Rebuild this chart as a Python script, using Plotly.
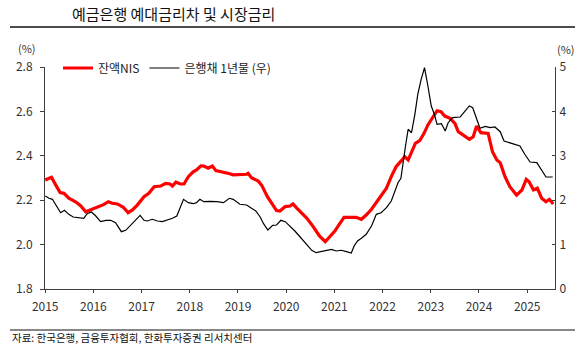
import plotly.graph_objects as go

# ---- data (decimal year, value) ----
nis_t = [2015.00, 2015.13, 2015.22, 2015.31, 2015.39, 2015.49, 2015.63, 2015.74, 2015.84, 2015.94,
         2016.08, 2016.21, 2016.31, 2016.39, 2016.50, 2016.62, 2016.72, 2016.81, 2016.91,
         2017.05, 2017.15, 2017.26, 2017.40, 2017.50, 2017.59, 2017.64, 2017.71, 2017.81, 2017.88, 2017.97,
         2018.07, 2018.14, 2018.23, 2018.29, 2018.38, 2018.47, 2018.54, 2018.66, 2018.75, 2018.83, 2018.90,
         2019.04, 2019.18, 2019.21, 2019.28, 2019.42, 2019.49, 2019.61, 2019.72, 2019.80, 2019.87, 2019.98,
         2020.08, 2020.14, 2020.22, 2020.32, 2020.43, 2020.56, 2020.69, 2020.81, 2020.90,
         2021.01, 2021.09, 2021.20, 2021.35, 2021.45, 2021.56, 2021.66, 2021.77, 2021.87, 2021.97,
         2022.08, 2022.18, 2022.28, 2022.39, 2022.46, 2022.53, 2022.60, 2022.68, 2022.77, 2022.86, 2022.94,
         2023.05, 2023.13, 2023.21, 2023.29, 2023.40, 2023.50, 2023.57, 2023.67, 2023.80, 2023.88, 2023.95,
         2024.04, 2024.19, 2024.28, 2024.37, 2024.44, 2024.54, 2024.64, 2024.78, 2024.89, 2024.98,
         2025.04, 2025.13, 2025.21, 2025.30, 2025.39, 2025.46, 2025.54]
nis_v = [2.291, 2.303, 2.268, 2.234, 2.231, 2.209, 2.193, 2.174, 2.148, 2.156,
         2.168, 2.180, 2.193, 2.186, 2.183, 2.168, 2.144, 2.156, 2.178,
         2.216, 2.231, 2.261, 2.264, 2.276, 2.273, 2.264, 2.281, 2.273, 2.273, 2.306,
         2.328, 2.336, 2.355, 2.354, 2.344, 2.354, 2.333, 2.328, 2.321, 2.319, 2.314,
         2.314, 2.317, 2.321, 2.301, 2.286, 2.268, 2.216, 2.178, 2.153, 2.151, 2.171,
         2.174, 2.183, 2.164, 2.141, 2.118, 2.081, 2.039, 2.013, 2.036,
         2.061, 2.088, 2.123, 2.123, 2.123, 2.114, 2.133, 2.159, 2.189, 2.216,
         2.254, 2.306, 2.351, 2.378, 2.396, 2.381, 2.418, 2.456, 2.468, 2.501, 2.539,
         2.579, 2.603, 2.599, 2.579, 2.569, 2.546, 2.509, 2.494, 2.474, 2.486, 2.534,
         2.504, 2.501, 2.418, 2.381, 2.369, 2.306, 2.261, 2.223, 2.246, 2.294,
         2.283, 2.246, 2.254, 2.209, 2.193, 2.204, 2.183]

bond_t = [2015.00, 2015.08, 2015.15, 2015.24, 2015.32, 2015.40, 2015.49, 2015.58, 2015.70, 2015.80, 2015.87, 2015.96,
          2016.05, 2016.15, 2016.26, 2016.36, 2016.46, 2016.58, 2016.67, 2016.77, 2016.88, 2016.97,
          2017.05, 2017.12, 2017.22, 2017.33, 2017.43, 2017.53, 2017.64, 2017.73, 2017.78, 2017.87, 2017.97,
          2018.07, 2018.14, 2018.21, 2018.29, 2018.42, 2018.56, 2018.70, 2018.82, 2018.90,
          2019.04, 2019.18, 2019.28, 2019.37, 2019.46, 2019.53, 2019.62, 2019.72, 2019.80, 2019.89, 2019.98,
          2020.08, 2020.18, 2020.29, 2020.43, 2020.53, 2020.62, 2020.70, 2020.83, 2020.94,
          2021.04, 2021.14, 2021.25, 2021.35, 2021.41, 2021.48, 2021.56, 2021.66, 2021.77, 2021.87, 2021.97,
          2022.08, 2022.18, 2022.26, 2022.32, 2022.38, 2022.42, 2022.47, 2022.53, 2022.60, 2022.67, 2022.73,
          2022.80, 2022.87, 2022.94,
          2023.01, 2023.07, 2023.13, 2023.22, 2023.30, 2023.36, 2023.45, 2023.61, 2023.71, 2023.80, 2023.87, 2023.95,
          2024.02, 2024.13, 2024.23, 2024.33, 2024.44, 2024.52, 2024.64, 2024.75, 2024.85, 2024.95,
          2025.06, 2025.20, 2025.30, 2025.39, 2025.53]
bond_v = [2.095, 2.043, 2.020, 1.847, 1.718, 1.773, 1.682, 1.622, 1.606, 1.592, 1.696, 1.734,
          1.644, 1.516, 1.547, 1.547, 1.493, 1.291, 1.322, 1.435, 1.570, 1.660,
          1.547, 1.532, 1.570, 1.532, 1.516, 1.547, 1.592, 1.644, 1.795, 2.020, 1.944,
          1.921, 1.944, 2.020, 1.966, 1.975, 1.966, 1.944, 2.043, 2.020,
          1.908, 1.892, 1.818, 1.757, 1.622, 1.471, 1.329, 1.435, 1.441, 1.547, 1.516,
          1.419, 1.306, 1.171, 1.007, 0.872, 0.818, 0.840, 0.878, 0.894,
          0.856, 0.872, 0.840, 0.811, 0.968, 1.081, 1.142, 1.232, 1.419, 1.682, 1.718,
          1.831, 1.982, 2.207, 2.394, 2.493, 2.845, 3.182, 3.597, 3.520, 3.935, 4.385,
          4.723, 4.984, 4.572,
          4.122, 3.948, 3.709, 3.723, 3.559, 3.745, 3.858, 3.874, 4.009, 4.122, 4.083, 3.822,
          3.619, 3.664, 3.633, 3.649, 3.543, 3.333, 3.295, 3.243, 3.221, 3.034,
          2.860, 2.845, 2.658, 2.523, 2.523]

years = list(range(2015, 2026))
year_labels = [str(y) for y in years]
left_ticks = [1.8, 2.0, 2.2, 2.4, 2.6, 2.8]
right_ticks = [0, 1, 2, 3, 4, 5]

title_text = "예금은행 예대금리차 및 시장금리"
source_text = "자료: 한국은행, 금융투자협회, 한화투자증권 리서치센터"
name_nis = "잔액NIS"
name_bond = "은행채 1년물 (우)"

# ---- layout geometry (pixels) ----
W, H = 585, 348
L, R, T, B = 45, 555, 67, 289
FONT = "Noto Sans CJK KR"


def px(p):
    return (p - L) / (R - L)


def py(p):
    return (B - p) / (B - T)


fig = go.Figure()
fig.add_trace(go.Scatter(x=nis_t, y=nis_v, name=name_nis, mode="lines",
                         line=dict(color="#FF0000", width=3.2), yaxis="y"))
fig.add_trace(go.Scatter(x=bond_t, y=bond_v, name=name_bond, mode="lines",
                         line=dict(color="#000000", width=1.2), yaxis="y2"))

axis_col = "#404040"
tick_font = dict(family=FONT, size=12, color="#333333")

fig.update_layout(
    width=W, height=H,
    margin=dict(l=L, r=W - R, t=T, b=H - B, pad=0),
    paper_bgcolor="white", plot_bgcolor="white",
    font=dict(family=FONT, size=12, color="#222222"),
    showlegend=True,
    legend=dict(orientation="h", x=px(58), xanchor="left", y=py(68), yanchor="middle",
                bgcolor="rgba(0,0,0,0)", font=dict(family=FONT, size=12, color="#222222"),
                itemwidth=30, tracegroupgap=0),
    xaxis=dict(range=[2014.996, 2025.577], tickvals=years, ticktext=year_labels,
               showgrid=False, zeroline=False, showline=True, linecolor=axis_col, linewidth=1,
               ticks="outside", ticklen=3, tickcolor=axis_col, tickfont=tick_font,
               ticklabelstandoff=4),
    yaxis=dict(range=[1.8, 2.8], tickvals=left_ticks, ticktext=["%.1f" % v for v in left_ticks],
               showgrid=False, zeroline=False, showline=True, linecolor=axis_col, linewidth=1,
               ticks="outside", ticklen=4, tickcolor=axis_col, tickfont=tick_font,
               ticklabelstandoff=5),
    yaxis2=dict(range=[0, 5], tickvals=right_ticks, overlaying="y", side="right",
                showgrid=False, zeroline=False, showline=True, linecolor=axis_col, linewidth=1,
                ticks="inside", ticklen=3, tickcolor=axis_col, tickfont=tick_font,
                ticklabelstandoff=1),
)

anns = [
    dict(text=title_text, x=px(70), y=py(13), xanchor="left", yanchor="middle",
         font=dict(family=FONT, size=15, color="#111111")),
    dict(text="(%)", x=px(27), y=py(48), xanchor="center", yanchor="middle",
         font=dict(family=FONT, size=11, color="#333333")),
    dict(text="(%)", x=px(566), y=py(49), xanchor="center", yanchor="middle",
         font=dict(family=FONT, size=11, color="#333333")),
    dict(text=source_text, x=px(10), y=py(337), xanchor="left", yanchor="middle",
         font=dict(family=FONT, size=10.5, color="#111111")),
]
for a in anns:
    a.update(xref="paper", yref="paper", showarrow=False)
fig.update_layout(annotations=anns)

fig.add_shape(type="line", xref="paper", yref="paper", x0=px(10), x1=px(575), y0=py(27), y1=py(27),
              line=dict(color="#111111", width=1.5))
fig.add_shape(type="line", xref="paper", yref="paper", x0=px(10), x1=px(575), y0=py(330), y1=py(330),
              line=dict(color="#111111", width=1))

fig.write_html("out.html")
